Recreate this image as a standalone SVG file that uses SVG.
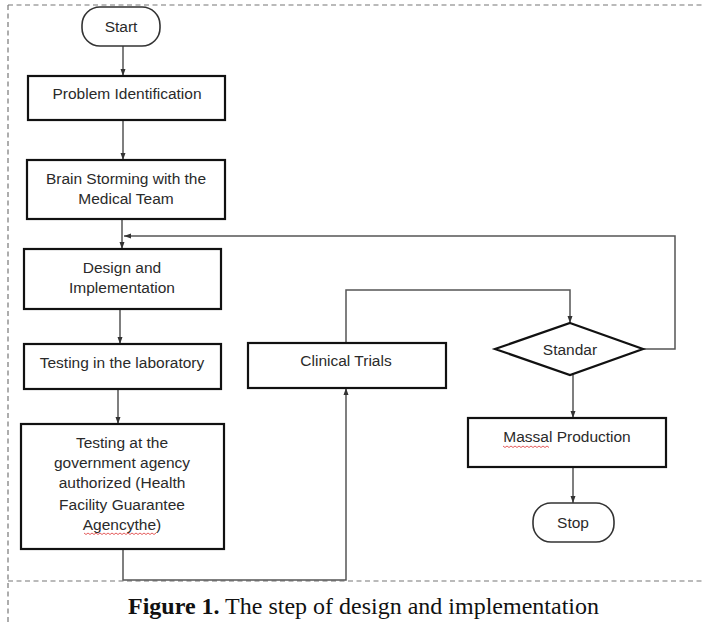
<svg xmlns="http://www.w3.org/2000/svg" width="703" height="622" viewBox="0 0 703 622">
<defs>
<style>
.box{fill:#fff;stroke:#111;stroke-width:2.2}
.term{fill:#fff;stroke:#333;stroke-width:1.6}
.t{font-family:"Liberation Sans","Open Sans",sans-serif;font-size:15.5px;fill:#2a2a2a;text-anchor:middle}
.c{fill:none;stroke:#555;stroke-width:1.5}
.frame{fill:none;stroke:#777;stroke-width:1.2;stroke-dasharray:5 3.5}
.wavy{fill:none;stroke:#d33;stroke-width:0.8}
</style>
<marker id="ah" markerWidth="8" markerHeight="8" refX="7" refY="4" orient="auto" markerUnits="userSpaceOnUse">
<path d="M0,1.5 L7,4 L0,6.5 Z" fill="#333"/>
</marker>
</defs>
<rect width="703" height="622" fill="#fff"/>
<g id="frame">
<line class="frame" x1="8" y1="5" x2="703" y2="5"/>
<line class="frame" x1="8" y1="5" x2="8" y2="622"/>
<line class="frame" x1="8" y1="581" x2="703" y2="581"/>
</g>
<g id="connectors">
<line class="c" x1="123" y1="46" x2="123" y2="76" marker-end="url(#ah)"/>
<line class="c" x1="123" y1="120" x2="123" y2="160" marker-end="url(#ah)"/>
<line class="c" x1="122" y1="219" x2="122" y2="249" marker-end="url(#ah)"/>
<line class="c" x1="120" y1="309" x2="120" y2="344" marker-end="url(#ah)"/>
<line class="c" x1="118" y1="389" x2="118" y2="424" marker-end="url(#ah)"/>
<polyline class="c" points="123,549 123,580 346,580 346,388" marker-end="url(#ah)"/>
<polyline class="c" points="346,343 346,290 570,290 570,323" marker-end="url(#ah)"/>
<polyline class="c" points="643,349 675,349 675,236 124,236" marker-end="url(#ah)"/>
<line class="c" x1="573" y1="375" x2="573" y2="418" marker-end="url(#ah)"/>
<line class="c" x1="573" y1="467" x2="573" y2="503" marker-end="url(#ah)"/>
</g>
<g id="start">
<rect class="term" x="82" y="7" width="78" height="39" rx="18" ry="18"/>
<text class="t" x="121" y="32">Start</text>
</g>
<g id="problem">
<rect class="box" x="28" y="76" width="197" height="44"/>
<text class="t" x="127" y="99">Problem Identification</text>
</g>
<g id="brainstorm">
<rect class="box" x="27" y="160" width="198" height="59"/>
<text class="t" x="126" y="184">Brain Storming with the</text>
<text class="t" x="126" y="204">Medical Team</text>
</g>
<g id="design">
<rect class="box" x="24" y="249" width="197" height="60"/>
<text class="t" x="122" y="273">Design and</text>
<text class="t" x="122" y="293">Implementation</text>
</g>
<g id="testlab">
<rect class="box" x="24" y="344" width="197" height="45"/>
<text class="t" x="122" y="368">Testing  in the laboratory</text>
</g>
<g id="gov">
<rect class="box" x="21" y="424" width="203" height="125"/>
<text class="t" x="122" y="448">Testing at the</text>
<text class="t" x="122" y="468">government agency</text>
<text class="t" x="122" y="488">authorized  (Health</text>
<text class="t" x="122" y="510">Facility Guarantee</text>
<text class="t" x="122" y="530">Agencythe)</text>
<path class="wavy" d="M84,533 l2,1.5 l2,-1.5 l2,1.5 l2,-1.5 l2,1.5 l2,-1.5 l2,1.5 l2,-1.5 l2,1.5 l2,-1.5 l2,1.5 l2,-1.5 l2,1.5 l2,-1.5 l2,1.5 l2,-1.5 l2,1.5 l2,-1.5 l2,1.5 l2,-1.5 l2,1.5 l2,-1.5 l2,1.5 l2,-1.5 l2,1.5 l2,-1.5 l2,1.5 l2,-1.5 l2,1.5 l2,-1.5 l2,1.5 l2,-1.5 l2,1.5 l2,-1.5 l2,1.5 l2,-1.5"/>
</g>
<g id="clinical">
<rect class="box" x="248" y="343" width="198" height="45"/>
<text class="t" x="346" y="366">Clinical Trials</text>
</g>
<g id="standar">
<polygon class="box" points="570,323 643,349 570,375 495,349"/>
<text class="t" x="570" y="355">Standar</text>
</g>
<g id="massal">
<rect class="box" x="468" y="418" width="198" height="49"/>
<text class="t" x="567" y="442">Massal Production</text>
<path class="wavy" d="M503,446 l2,1.5 l2,-1.5 l2,1.5 l2,-1.5 l2,1.5 l2,-1.5 l2,1.5 l2,-1.5 l2,1.5 l2,-1.5 l2,1.5 l2,-1.5 l2,1.5 l2,-1.5 l2,1.5 l2,-1.5 l2,1.5 l2,-1.5 l2,1.5 l2,-1.5 l2,1.5 l2,-1.5 l2,1.5"/>
</g>
<g id="stop">
<rect class="term" x="533" y="503" width="81" height="39" rx="18" ry="18"/>
<text class="t" x="573" y="528">Stop</text>
</g>
<g id="caption">
<text x="128" y="614" font-family="'Liberation Serif','Times New Roman',serif" font-size="23" fill="#111" textLength="471" lengthAdjust="spacingAndGlyphs"><tspan font-weight="bold">Figure 1.</tspan> The step of design and implementation</text>
</g>
</svg>
